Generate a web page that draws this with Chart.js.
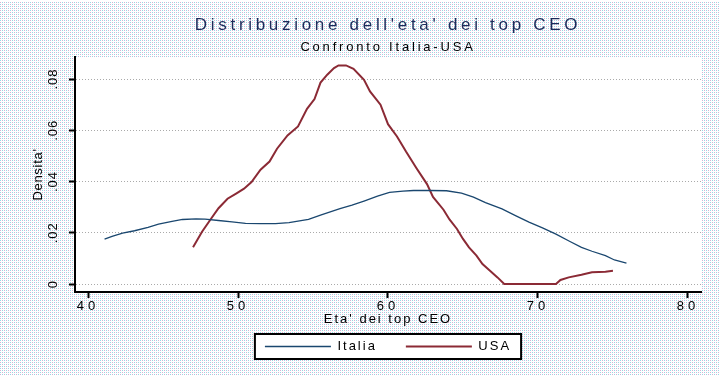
<!DOCTYPE html>
<html><head><meta charset="utf-8">
<script src="https://cdn.jsdelivr.net/npm/chart.js@4"></script>
<style>html,body{margin:0;padding:0;background:#fff;}canvas{display:block;}</style>
</head><body>
<canvas id="c" width="727" height="381"></canvas>
<script>
const titleText = "Distribuzione dell'eta' dei top CEO";
const subtitleText = "Confronto Italia-USA";
const xTitleText = "Eta' dei top CEO";
const yTitleText = "Densita'";
const seriesNames = ["Italia", "USA"];

const ageItalia  = [41.1, 41.6, 42.3, 43.1, 44.0, 44.7, 45.6, 46.3, 47.2, 47.8, 48.7, 49.6, 50.5, 51.5, 52.5, 53.4, 54.7, 55.5, 56.8, 57.6, 58.4, 59.3, 60.1, 61.0, 61.7, 62.8, 63.9, 64.9, 65.7, 66.5, 67.6, 68.5, 69.4, 70.3, 71.2, 72.1, 72.9, 73.6, 74.5, 75.1, 75.9];
const densItalia = [.0175, .0186, .0199, .0208, .0221, .0234, .0245, .0252, .0254, .0253, .0248, .0243, .0237, .0236, .0236, .0240, .0252, .0269, .0294, .0308, .0324, .0343, .0358, .0363, .0365, .0365, .0364, .0355, .0339, .0318, .0293, .0267, .0242, .0219, .0195, .0167, .0143, .0128, .0111, .0094, .0082];

const ageUSA  = [47.0, 47.6, 48.2, 48.7, 49.3, 49.9, 50.4, 50.9, 51.5, 52.1, 52.6, 53.3, 54.0, 54.6, 55.1, 55.5, 55.95, 56.4, 56.7, 57.2, 57.7, 58.4, 58.8, 59.5, 60.0, 60.6, 61.2, 61.9, 62.6, 63.0, 63.7, 64.1, 64.6, 65.0, 65.4, 65.9, 66.3, 66.8, 67.3, 67.75, 71.2, 71.5, 72.05, 72.9, 73.6, 74.5, 75.0];
const densUSA = [.0144, .0204, .0255, .0296, .0333, .0354, .0372, .0398, .0446, .0478, .0528, .0580, .0615, .0684, .0722, .0786, .0817, .0843, .0853, .0853, .0840, .0797, .0752, .0700, .0624, .0576, .0517, .0452, .0390, .0340, .0290, .0252, .0215, .0176, .0143, .0111, .0078, .0052, .0026, 0, 0, .0016, .0026, .0036, .0046, .0048, .0052];

const xTicks = [40, 50, 60, 70, 80];
const xTickLabels = ['40', '50', '60', '70', '80'];
const yTicks = [0, 0.02, 0.04, 0.06, 0.08];
const yTickLabels = ['0', '.02', '.04', '.06', '.08'];

const FF = "'Liberation Sans', Arial, sans-serif";
const spacing = {title: '3.7px', subtitle: '2.8px', legend: '2px', xTicks: '4px', xTitle: '2px', yTicks: '1px', yTitle: '0.7px'};

function wrapSpacing(obj, fn, sp) {
  const key = '__ws_' + fn;
  if (obj[key]) return;
  const orig = obj[fn];
  obj[fn] = function (...args) {
    const c = this.ctx;
    const prev = c.letterSpacing;
    c.letterSpacing = sp;
    const r = orig.apply(this, args);
    c.letterSpacing = prev;
    return r;
  };
  obj[key] = true;
}

function makePattern(ctx) {
  const pc = document.createElement('canvas');
  pc.width = 4; pc.height = 4;
  const p = pc.getContext('2d');
  p.fillStyle = '#ffffff'; p.fillRect(0, 0, 4, 4);
  p.fillStyle = 'rgb(150,218,228)'; p.fillRect(0, 0, 1, 1); p.fillRect(2, 2, 1, 1);
  p.fillStyle = 'rgb(212,178,212)'; p.fillRect(2, 0, 1, 1); p.fillRect(0, 2, 1, 1);
  return ctx.createPattern(pc, 'repeat');
}

const stataLook = {
  id: 'stataLook',
  beforeLayout(chart) { chart.ctx.letterSpacing = '2px'; },
  afterLayout(chart) { chart.ctx.letterSpacing = '0px'; },
  beforeDraw(chart) {
    const ctx = chart.ctx;
    chart.boxes.forEach(b => {
      if (b.options && b.options.text === titleText) wrapSpacing(b, 'draw', spacing.title);
      if (b.options && b.options.text === subtitleText) wrapSpacing(b, 'draw', spacing.subtitle);
    });
    if (chart.legend) wrapSpacing(chart.legend, 'draw', spacing.legend);
    wrapSpacing(chart.scales.x, 'drawLabels', spacing.xTicks);
    wrapSpacing(chart.scales.x, 'drawTitle', spacing.xTitle);
    wrapSpacing(chart.scales.y, 'drawLabels', spacing.yTicks);
    wrapSpacing(chart.scales.y, 'drawTitle', spacing.yTitle);

    ctx.save();
    ctx.fillStyle = makePattern(ctx);
    ctx.fillRect(0, 2, 719, 374);
    const a = chart.chartArea;
    ctx.fillStyle = '#ffffff';
    ctx.fillRect(a.left, a.top, a.right - a.left, a.bottom - a.top);
    const lg = chart.legend;
    if (lg && lg.legendHitBoxes && lg.legendHitBoxes.length) {
      const hb = lg.legendHitBoxes;
      const first = hb[0], last = hb[hb.length - 1];
      const l = first.left - 10, r = last.left + last.width + 10;
      const cy = first.top + first.height / 2;
      ctx.fillStyle = '#ffffff';
      ctx.fillRect(l, cy - 12.5, r - l, 25);
      ctx.strokeStyle = '#000000';
      ctx.lineWidth = 2;
      ctx.strokeRect(l, cy - 12.5, r - l, 25);
    }
    ctx.restore();
  }
};

new Chart(document.getElementById('c'), {
  type: 'line',
  data: {
    datasets: [
      {label: seriesNames[0], data: ageItalia.map((x, i) => ({x: x, y: densItalia[i]})),
       borderColor: '#1a476f', backgroundColor: '#1a476f', borderWidth: 1.3, pointRadius: 0, tension: 0, fill: false},
      {label: seriesNames[1], data: ageUSA.map((x, i) => ({x: x, y: densUSA[i]})),
       borderColor: '#8b2a35', backgroundColor: '#8b2a35', borderWidth: 2, pointRadius: 0, tension: 0, fill: false}
    ]
  },
  options: {
    responsive: false, animation: false, devicePixelRatio: 1,
    layout: {padding: {top: 0, left: 0, right: 26, bottom: 18}},
    plugins: {
      title: {display: true, text: titleText, fullSize: false, color: '#1c2b5a',
              font: {family: FF, size: 17, weight: 'normal'}, padding: {top: 15.5, bottom: 0}},
      subtitle: {display: true, text: subtitleText, fullSize: false, color: '#000',
                 font: {family: FF, size: 13, weight: 'normal'}, padding: {top: 3.5, bottom: 2}},
      legend: {position: 'bottom', fullSize: false,
               labels: {usePointStyle: true, pointStyle: 'line', pointStyleWidth: 66, color: '#000',
                        font: {family: FF, size: 13}, padding: 29}},
      tooltip: {enabled: false}
    },
    scales: {
      x: {type: 'linear', min: 39.13, max: 80.87,
          afterBuildTicks: s => { s.ticks = xTicks.map(v => ({value: v})); },
          afterFit: s => { s.height = 19; },
          grid: {drawOnChartArea: false, drawTicks: true, tickLength: 6, tickWidth: 2, tickColor: '#000'},
          border: {display: true, color: '#000', width: 2},
          ticks: {color: '#000', font: {family: FF, size: 13}, padding: 1, minRotation: 0, maxRotation: 0, autoSkip: false,
                  callback: v => xTickLabels[xTicks.indexOf(v)]},
          title: {display: true, text: xTitleText, color: '#000', font: {family: FF, size: 13}, padding: {top: 0, bottom: -15.8}}
      },
      y: {type: 'linear', min: -0.0031, max: 0.0886,
          afterBuildTicks: s => { s.ticks = yTicks.map(v => ({value: v})); },
          afterFit: s => { s.width = 75; },
          grid: {drawOnChartArea: true, color: '#aaaaaa', lineWidth: 1, drawTicks: true, tickLength: 6, tickWidth: 2, tickColor: '#000'},
          border: {display: true, color: '#000', width: 2, dash: [1, 2]},
          ticks: {color: '#000', font: {family: FF, size: 13}, padding: 4, minRotation: 90, maxRotation: 90, crossAlign: 'center', autoSkip: false,
                  callback: v => yTickLabels[yTicks.indexOf(v)]},
          title: {display: true, text: yTitleText, color: '#000', font: {family: FF, size: 13}, padding: {top: 30.5, bottom: 0}}
      }
    }
  },
  plugins: [stataLook]
});
</script>
</body></html>
